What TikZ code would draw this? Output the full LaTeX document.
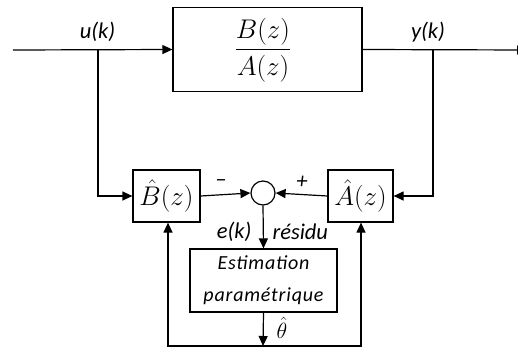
\RequirePackage{fix-cm}
\documentclass[tikz,border=0pt]{standalone}
\usepackage{amsmath}
\usepackage{fontspec}
\setmainfont{Carlito}
\usetikzlibrary{arrows.meta}
\begin{document}
\begin{tikzpicture}[x=1pt,y=-1pt,
  wire/.style={line width=1.2pt},
  arr/.style={wire,-{Triangle[length=10pt,width=9pt]}},
  blk/.style={draw,line width=1.2pt,inner sep=0pt},
  lbl/.style={font=\fontsize{22.5}{24}\selectfont\itshape},
  mth/.style={font=\fontsize{27}{30}\selectfont}]
\clip (0,0) rectangle (518,356);
\useasboundingbox (0,0) rectangle (518,356);
% main block
\node[blk,minimum width=189pt,minimum height=84pt] (G) at (267.5,49.5) {};
\node[mth] (Gt) at (263,50) {$\dfrac{B(z)}{A(z)}$};
\node[blk,minimum width=67pt,minimum height=52pt,mth] (Bh) at (166.5,196) {$\hat{B}(z)$};
\node[blk,minimum width=65pt,minimum height=52pt,mth] (Ah) at (360.5,196) {$\hat{A}(z)$};
\node[draw,circle,line width=1.2pt,minimum size=24pt,inner sep=0pt] (S) at (263,193) {};
\node[blk,minimum width=147pt,minimum height=63pt,align=center,
  font=\fontsize{20}{32}\selectfont\itshape\addfontfeatures{LetterSpace=4}] (E) at (263.5,280.5) {Estimation\\paramétrique};
% coordinates
\coordinate (in) at (13,50);
\coordinate (out) at (527,50);
\coordinate (ub) at (98,50);
\coordinate (yb) at (433,50);
\coordinate (bot) at (263,346);
\coordinate (bl) at (168,346);
\coordinate (br) at (361,346);
% signals
\draw[arr] (in) -- (G.west);
\draw[arr] (G.east) -- (out);
\draw[arr] (ub) |- (Bh.west);
\draw[arr] (yb) |- (Ah.east);
\draw[arr] (Bh.east) -- (S.west);
\draw[arr] (Ah.west) -- (S.east);
\draw[arr] (S.south) -- (E.north);
\draw[arr] (E.south) -- (bot);
\draw[arr] (bot) -- (bl) -- (Bh.south -| bl);
\draw[arr] (bot) -- (br) -- (Ah.south -| br);
% labels
\node[lbl] (lu) at (97.5,32) {u(k)};
\node[lbl] (ly) at (428,32) {y(k)};
\node[lbl] (lm) at (221,183) {–};
\node[lbl] (lp) at (302,182) {+};
\node[lbl,anchor=east] (le) at (255,232) {e(k)};
\node[lbl,anchor=west] (lr) at (269,232) {résidu};
\node[font=\fontsize{22}{24}\selectfont,anchor=west] (lt) at (273,328) {$\hat{\theta}$};
\end{tikzpicture}
\end{document}
